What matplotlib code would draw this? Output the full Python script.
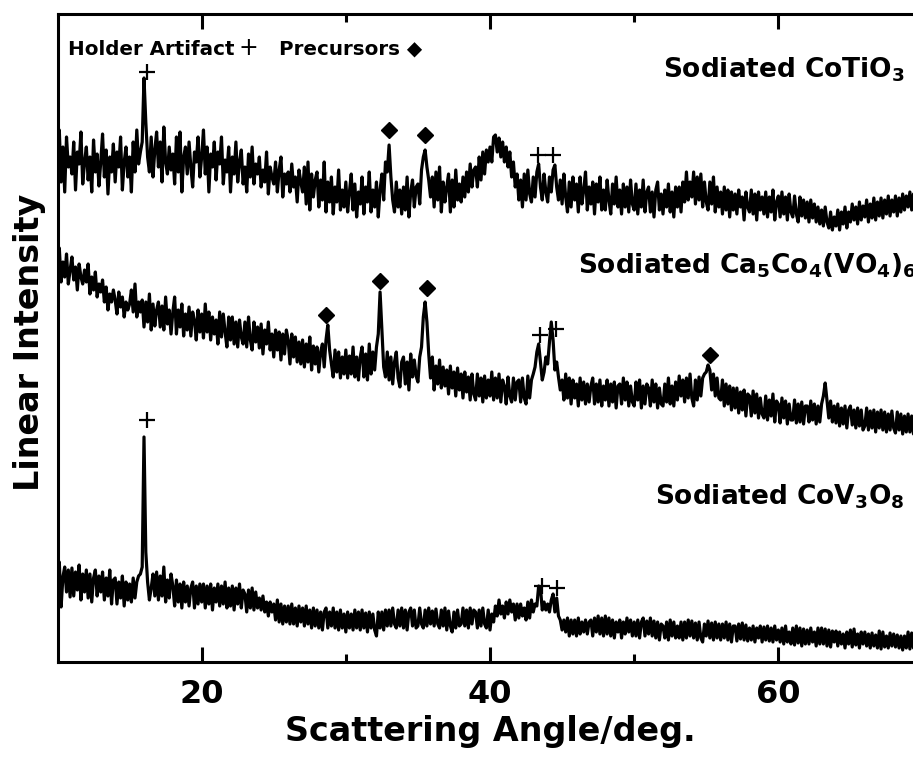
import numpy as np
import matplotlib
matplotlib.use("Agg")
import matplotlib.pyplot as plt
from matplotlib.ticker import FixedLocator

plt.rcParams['font.family'] = ['DejaVu Sans']
plt.rcParams['mathtext.fontset'] = 'custom'
plt.rcParams['mathtext.rm'] = 'DejaVu Sans:bold'
plt.rcParams['mathtext.it'] = 'DejaVu Sans:bold'
plt.rcParams['mathtext.bf'] = 'DejaVu Sans:bold'
plt.rcParams['mathtext.default'] = 'rm'

# scattering angle grid (deg): 10.0 ... 69.5 in 0.125 deg steps
angle_start = 10.0
angle_step = 0.125

# Sodiated CoTiO3 (top trace), intensity in arbitrary units
cotio3 = [
    510, 532, 480, 515, 470, 525, 495, 505,
    488, 520, 472, 510, 498, 530, 478, 500,
    515, 482, 505, 470, 522, 490, 508, 476,
    500, 528, 485, 512, 468, 505, 490, 518,
    480, 510, 495, 525, 472, 500, 515, 485,
    505, 470, 520, 490, 532, 498, 510, 520,
    584, 540, 505, 490, 525, 485, 512, 530,
    495, 520, 480, 535, 500, 488, 515, 492,
    508, 478, 525, 490, 530, 470, 505, 515,
    488, 520, 495, 475, 510, 500, 525, 485,
    505, 532, 488, 515, 470, 508, 495, 520,
    482, 510, 498, 525, 478, 502, 490, 515,
    470, 505, 488, 520, 480, 500, 512, 478,
    495, 470, 508, 485, 515, 478, 498, 488,
    505, 475, 492, 480, 510, 468, 495, 485,
    478, 500, 470, 492, 505, 465, 488, 478,
    490, 470, 498, 475, 485, 460, 492, 480,
    470, 495, 458, 500, 452, 488, 465, 482,
    490, 455, 482, 462, 500, 450, 480, 460,
    485, 448, 475, 460, 492, 452, 472, 455,
    480, 450, 470, 488, 452, 478, 445, 470,
    458, 485, 448, 475, 460, 490, 450, 472,
    455, 480, 445, 472, 488, 462, 500, 490,
    517, 485, 462, 450, 480, 455, 472, 448,
    475, 452, 485, 445, 470, 482, 455, 475,
    478, 458, 492, 505, 512, 495, 482, 465,
    485, 455, 490, 462, 495, 450, 480, 460,
    475, 488, 450, 482, 455, 492, 462, 478,
    460, 485, 465, 490, 470, 498, 475, 492,
    495, 475, 505, 482, 510, 488, 512, 500,
    515, 500, 525, 527, 510, 524, 505, 520,
    500, 515, 495, 510, 485, 500, 475, 488,
    462, 482, 455, 488, 462, 492, 468, 460,
    485, 465, 490, 498, 475, 462, 488, 470,
    460, 485, 470, 492, 497, 475, 462, 482,
    458, 488, 465, 450, 480, 455, 485, 462,
    478, 450, 485, 458, 472, 490, 452, 475,
    458, 480, 448, 478, 460, 485, 452, 472,
    452, 482, 462, 448, 478, 458, 485, 455,
    472, 448, 478, 455, 475, 450, 482, 458,
    452, 478, 448, 472, 455, 482, 450, 470,
    475, 450, 470, 445, 472, 480, 452, 468,
    448, 472, 455, 478, 450, 470, 445, 475,
    455, 475, 450, 480, 460, 490, 462, 480,
    465, 490, 458, 485, 462, 488, 455, 480,
    460, 452, 480, 458, 485, 450, 475, 455,
    470, 448, 475, 452, 472, 445, 470, 452,
    468, 448, 472, 455, 465, 442, 470, 455,
    450, 472, 448, 468, 442, 470, 452, 465,
    448, 470, 445, 465, 450, 472, 442, 460,
    466, 445, 470, 448, 465, 442, 468, 450,
    445, 466, 448, 440, 465, 446, 462, 444,
    460, 440, 462, 444, 458, 440, 455, 438,
    452, 436, 455, 440, 434, 450, 432, 445,
    436, 452, 432, 450, 438, 455, 434, 450,
    440, 458, 442, 455, 438, 460, 442, 456,
    445, 462, 440, 458, 444, 464, 442, 460,
    446, 464, 444, 462, 448, 466, 446, 462,
    450, 466, 446, 464, 450, 468, 452, 466,
    455, 470, 452, 468, 462,
]

# Sodiated Ca5Co4(VO4)6 (middle trace)
ca5co4vo46 = [
    395, 414, 380, 400, 385, 408, 378, 392,
    405, 382, 395, 372, 398, 385, 378, 392,
    380, 398, 368, 385, 372, 390, 365, 378,
    370, 382, 360, 375, 352, 368, 360, 372,
    362, 348, 370, 355, 365, 345, 360, 352,
    358, 372, 350, 378, 345, 360, 350, 362,
    335, 360, 340, 368, 332, 358, 336, 352,
    360, 335, 356, 332, 365, 338, 352, 328,
    350, 365, 328, 352, 335, 358, 326, 348,
    332, 355, 326, 350, 342, 322, 352, 330,
    348, 324, 358, 330, 350, 322, 345, 328,
    342, 318, 350, 325, 348, 330, 315, 345,
    322, 345, 318, 340, 315, 342, 325, 318,
    340, 315, 345, 322, 312, 340, 320, 335,
    314, 338, 308, 332, 318, 340, 312, 328,
    305, 332, 312, 330, 302, 328, 308, 332,
    322, 298, 328, 305, 325, 300, 320, 298,
    322, 295, 318, 300, 325, 292, 316, 298,
    315, 290, 310, 318, 295, 322, 337, 312,
    298, 285, 312, 290, 310, 284, 305, 288,
    312, 284, 306, 288, 315, 285, 305, 282,
    305, 315, 285, 308, 282, 318, 288, 310,
    292, 315, 328, 370, 332, 295, 285, 310,
    282, 305, 278, 300, 310, 284, 275, 300,
    305, 278, 300, 272, 308, 285, 302, 286,
    280, 305, 315, 345, 360, 340, 308, 284,
    305, 272, 296, 278, 302, 274, 295, 276,
    292, 268, 296, 274, 290, 266, 294, 272,
    288, 264, 290, 270, 285, 262, 288, 268,
    262, 288, 266, 284, 260, 286, 264, 282,
    266, 290, 262, 284, 264, 288, 260, 282,
    276, 258, 285, 266, 260, 284, 262, 280,
    282, 260, 284, 264, 258, 286, 264, 282,
    288, 295, 310, 318, 300, 282, 290, 305,
    298, 320, 340, 322, 292, 300, 285, 272,
    282, 262, 288, 264, 284, 258, 282, 264,
    278, 256, 284, 262, 280, 258, 278, 260,
    276, 284, 258, 278, 260, 282, 256, 276,
    262, 282, 256, 278, 260, 280, 254, 276,
    278, 258, 284, 262, 280, 256, 276, 260,
    256, 280, 262, 282, 254, 276, 258, 278,
    274, 256, 282, 260, 278, 254, 274, 258,
    256, 278, 260, 284, 258, 276, 256, 280,
    262, 286, 266, 282, 260, 284, 264, 288,
    264, 256, 282, 262, 285, 266, 284, 288,
    290, 297, 292, 272, 288, 266, 284, 264,
    262, 282, 256, 278, 258, 276, 252, 274,
    254, 274, 249, 270, 252, 272, 246, 268,
    266, 246, 271, 249, 268, 244, 264, 248,
    244, 266, 242, 262, 246, 268, 240, 261,
    258, 239, 264, 244, 261, 238, 258, 242,
    242, 262, 239, 258, 240, 260, 238, 256,
    256, 240, 261, 242, 258, 238, 256, 240,
    258, 266, 279, 262, 244, 261, 240, 256,
    239, 258, 236, 254, 238, 256, 234, 252,
    256, 237, 252, 234, 254, 236, 252, 232,
    236, 254, 232, 251, 234, 252, 230, 250,
    234, 252, 232, 250, 230, 248, 232, 251,
    234, 229, 250, 232, 248, 228, 246, 230,
    248, 230, 246, 228, 244,
]

# Sodiated CoV3O8 (bottom trace)
cov3o8 = [
    88, 100, 55, 85, 95, 70, 92, 65,
    94, 66, 90, 72, 97, 62, 88, 70,
    92, 64, 88, 60, 84, 92, 66, 86,
    70, 90, 62, 84, 66, 92, 58, 82,
    84, 58, 80, 64, 86, 56, 80, 62,
    78, 60, 84, 64, 80, 86, 88, 95,
    225, 110, 80, 62, 74, 88, 66, 90,
    62, 86, 66, 95, 60, 82, 64, 88,
    76, 56, 82, 60, 78, 54, 80, 60,
    76, 56, 74, 80, 54, 76, 58, 78,
    60, 78, 54, 76, 58, 78, 52, 74,
    60, 78, 56, 76, 58, 80, 54, 74,
    56, 76, 52, 74, 58, 78, 54, 72,
    68, 50, 72, 54, 74, 52, 70, 54,
    64, 52, 66, 50, 60, 46, 60, 50,
    58, 42, 62, 40, 58, 38, 56, 40,
    56, 38, 58, 38, 54, 36, 56, 40,
    54, 36, 56, 38, 52, 34, 54, 36,
    52, 34, 50, 32, 50, 54, 34, 50,
    36, 54, 34, 50, 32, 52, 34, 48,
    30, 50, 34, 48, 32, 52, 34, 50,
    32, 52, 34, 49, 30, 50, 34, 48,
    32, 26, 50, 34, 50, 32, 52, 36,
    52, 36, 54, 38, 34, 52, 36, 54,
    34, 52, 32, 50, 54, 36, 52, 34,
    36, 54, 38, 34, 52, 36, 54, 38,
    51, 36, 53, 38, 34, 52, 36, 54,
    32, 51, 36, 30, 50, 34, 52, 36,
    38, 54, 36, 52, 34, 54, 38, 52,
    50, 34, 52, 36, 54, 38, 34, 52,
    32, 48, 40, 56, 46, 62, 48, 56,
    44, 60, 48, 62, 50, 58, 42, 58,
    44, 58, 46, 54, 42, 60, 44, 62,
    50, 58, 56, 76, 74, 52, 60, 52,
    58, 50, 62, 68, 50, 64, 46, 42,
    32, 42, 30, 44, 26, 42, 28, 42,
    26, 44, 28, 40, 30, 42, 28, 40,
    42, 26, 44, 30, 46, 28, 44, 26,
    46, 28, 44, 26, 42, 24, 40, 30,
    42, 24, 40, 28, 44, 30, 42, 26,
    40, 26, 42, 24, 40, 44, 26, 41,
    28, 44, 26, 41, 24, 40, 22, 38,
    36, 24, 40, 22, 42, 26, 40, 24,
    36, 24, 40, 22, 40, 24, 42, 26,
    41, 24, 39, 22, 40, 24, 20, 38,
    26, 41, 24, 39, 22, 40, 24, 38,
    22, 38, 24, 40, 22, 38, 20, 36,
    36, 21, 38, 23, 39, 22, 37, 21,
    34, 22, 36, 20, 34, 24, 36, 20,
    35, 22, 36, 21, 34, 20, 36, 22,
    32, 20, 34, 18, 36, 20, 30, 18,
    34, 17, 36, 19, 34, 16, 33, 18,
    32, 18, 34, 20, 30, 16, 34, 18,
    34, 18, 33, 16, 32, 15, 31, 20,
    31, 16, 30, 18, 28, 14, 30, 18,
    32, 15, 33, 17, 28, 14, 30, 18,
    30, 16, 28, 14, 29, 16, 27, 14,
    31, 13, 30, 15, 26, 14, 29, 16,
    28, 15, 27, 14, 26, 12, 26, 14,
    30, 13, 29, 14, 28,
]

# peak markers: holder artifact (+) and precursor (diamond) positions
plus_x = [16.2, 43.3, 44.4, 43.45, 44.55, 16.2, 43.6, 44.65]
plus_y = [590, 507, 507, 327, 333, 242, 76, 74]
diam_x = [33.0, 35.5, 28.65, 32.4, 35.6, 55.25]
diam_y = [532, 527, 347, 381, 374, 307]

labels = [r'Sodiated CoTiO$_3$', r'Sodiated Ca$_5$Co$_4$(VO$_4$)$_6$', r'Sodiated CoV$_3$O$_8$']

W, H = 913, 764
fig = plt.figure(figsize=(W / 100, H / 100), dpi=100)
x0, x1 = 57.5, 922.5
ytop, ybot = 14, 662
ax = fig.add_axes([x0 / W, 1 - ybot / H, (x1 - x0) / W, (ybot - ytop) / H])

n = len(cotio3)
angles = angle_start + angle_step * np.arange(n)
for series in (cotio3, ca5co4vo46, cov3o8):
    ax.plot(angles, series, color='black', lw=2.3, solid_joinstyle='round')

ax.plot(plus_x, plus_y, ls='none', marker='+', ms=11, mew=1.6, color='black')
ax.plot(diam_x, diam_y, ls='none', marker='D', ms=8, color='black')

ax.set_xlim(10, 70)
ax.set_ylim(0, 648)
ax.xaxis.set_major_locator(FixedLocator([20, 40, 60]))
ax.xaxis.set_minor_locator(FixedLocator([30, 50]))
ax.set_yticks([])
ax.tick_params(axis='x', which='both', direction='in', top=True, bottom=True,
               width=2.2, labelsize=23, pad=12)
ax.tick_params(axis='x', which='major', length=11)
ax.tick_params(axis='x', which='minor', length=6)
for lab in ax.get_xticklabels():
    lab.set_fontweight('bold')
for s in ax.spines.values():
    s.set_linewidth(2.2)

ax.set_xlabel('Scattering Angle/deg.', fontsize=24, fontweight='bold', labelpad=4)
fig.text(30 / W, 1 - 342 / H, 'Linear Intensity', rotation=90, fontsize=24,
         fontweight='bold', ha='center', va='center')

def px(xp, yp):
    return xp / W, 1 - yp / H

fig.text(*px(68, 55), 'Holder Artifact', fontsize=14.3, fontweight='bold', va='baseline')
fig.text(*px(238, 55), '+', fontsize=17, fontweight='normal', va='baseline')
fig.text(*px(279, 55), 'Precursors \u25c6', fontsize=14.3, fontweight='bold', va='baseline')

fig.text(*px(905, 78), labels[0], fontsize=19, fontweight='bold', ha='right', va='baseline')
fig.text(*px(578, 274), labels[1], fontsize=19, fontweight='bold', ha='left', va='baseline')
fig.text(*px(905, 505), labels[2], fontsize=19, fontweight='bold', ha='right', va='baseline')

fig.savefig('out.png', dpi=100)
